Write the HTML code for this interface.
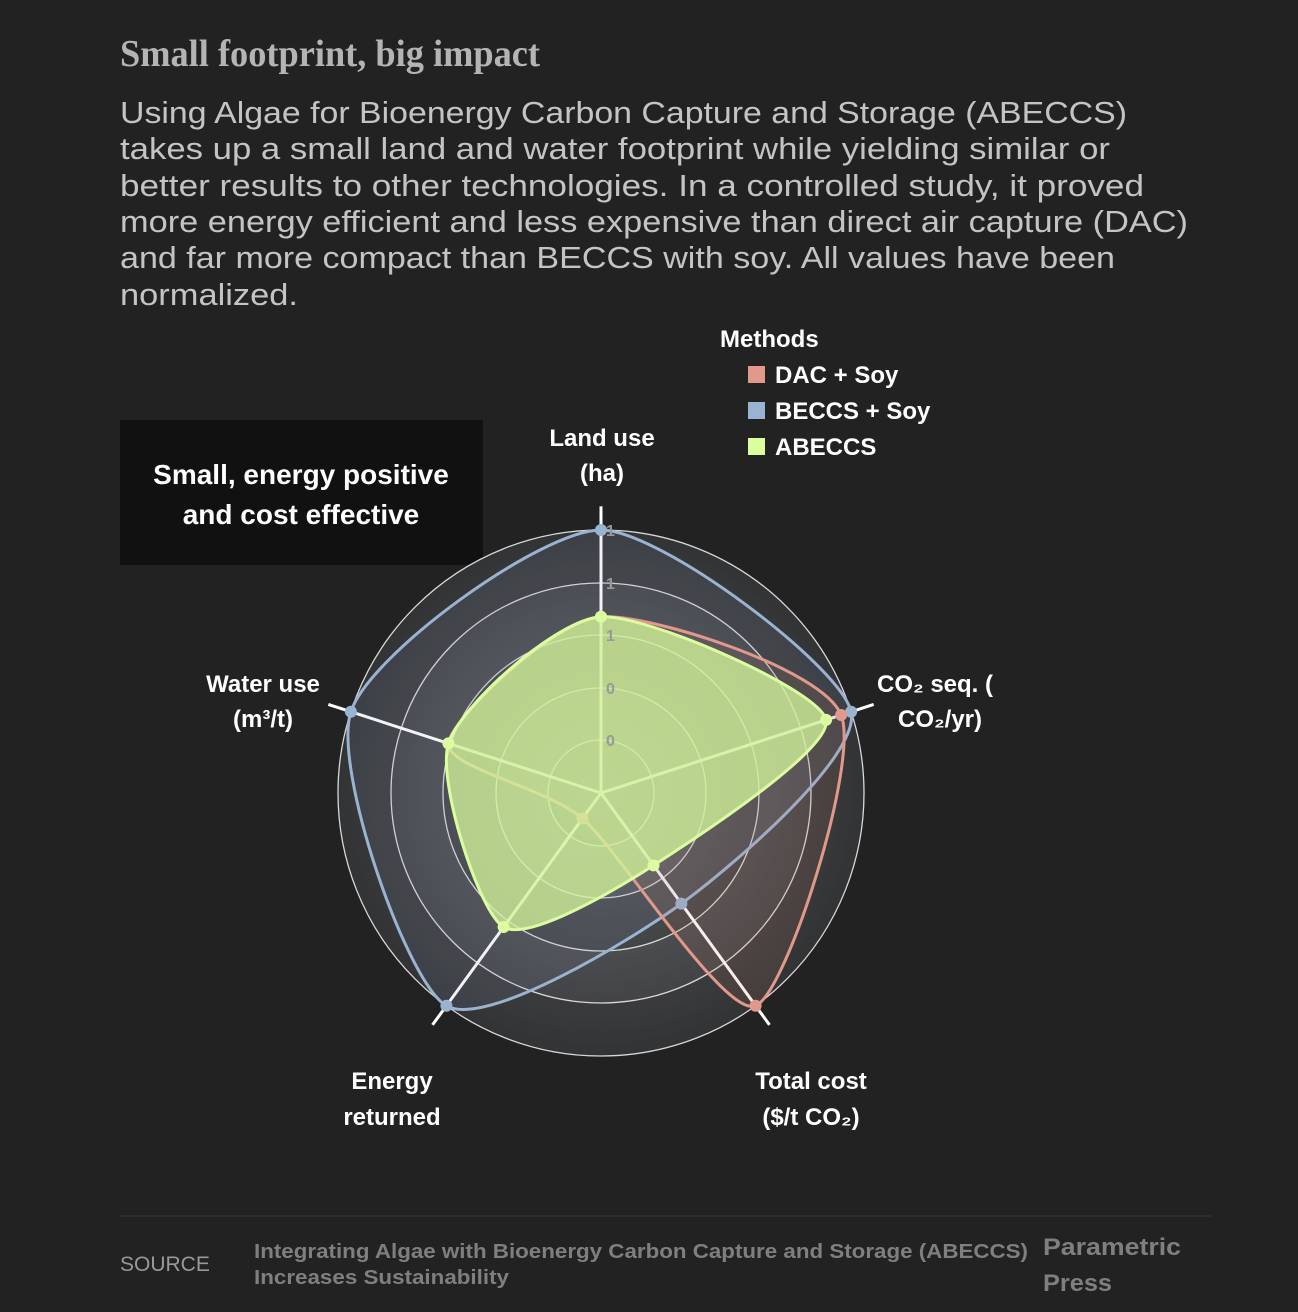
<!DOCTYPE html>
<html><head><meta charset="utf-8"><style>
html,body{margin:0;padding:0;background:#222222;}
svg{display:block}
text{font-family:"Liberation Sans",sans-serif;}
</style></head><body>
<svg id="s" width="1298" height="1312" viewBox="0 0 1298 1312" xmlns="http://www.w3.org/2000/svg">
<defs>
<radialGradient id="bg" cx="601" cy="793" r="263" gradientUnits="userSpaceOnUse">
<stop offset="0" stop-color="#64666a"/><stop offset="1" stop-color="#3a3b3d"/>
</radialGradient>
</defs>
<rect width="1298" height="1312" fill="#222222"/>
<text x="120" y="66" font-weight="bold" font-size="38" fill="#b4b4b4" textLength="420" lengthAdjust="spacingAndGlyphs" style="font-family:'Liberation Serif',serif">Small footprint, big impact</text>
<g fill="#c4c4c4" font-size="31">
<text x="120" y="123" textLength="1007" lengthAdjust="spacingAndGlyphs">Using Algae for Bioenergy Carbon Capture and Storage (ABECCS)</text>
<text x="120" y="159" textLength="990" lengthAdjust="spacingAndGlyphs">takes up a small land and water footprint while yielding similar or</text>
<text x="120" y="196" textLength="1024" lengthAdjust="spacingAndGlyphs">better results to other technologies. In a controlled study, it proved</text>
<text x="120" y="232" textLength="1068" lengthAdjust="spacingAndGlyphs">more energy efficient and less expensive than direct air capture (DAC)</text>
<text x="120" y="268" textLength="995" lengthAdjust="spacingAndGlyphs">and far more compact than BECCS with soy. All values have been</text>
<text x="120" y="305" textLength="178" lengthAdjust="spacingAndGlyphs">normalized.</text>
</g>
<text x="720" y="347" font-size="24" font-weight="bold" fill="#ffffff">Methods</text>
<rect x="748" y="366" width="17" height="17" fill="#e0998a"/>
<text x="775" y="383" font-size="24" font-weight="bold" fill="#fff">DAC + Soy</text>
<rect x="748" y="402" width="17" height="17" fill="#9ab3d0"/>
<text x="775" y="419" font-size="24" font-weight="bold" fill="#fff">BECCS + Soy</text>
<rect x="748" y="438" width="17" height="17" fill="#dcfca0"/>
<text x="775" y="455" font-size="24" font-weight="bold" fill="#fff">ABECCS</text>

<rect x="120" y="420" width="363" height="145" fill="#111111"/>
<text x="301" y="484" font-size="28" font-weight="bold" fill="#fff" text-anchor="middle">Small, energy positive</text>
<text x="301" y="524" font-size="28" font-weight="bold" fill="#fff" text-anchor="middle">and cost effective</text>

<circle cx="601" cy="793" r="263" fill="url(#bg)"/>
<circle cx="601" cy="793" r="263" fill="#000" opacity="0.12"/>
<circle cx="601" cy="793" r="210" fill="url(#bg)"/>
<circle cx="601" cy="793" r="158" fill="#000" opacity="0.10"/>
<circle cx="601" cy="793" r="105" fill="url(#bg)"/>
<circle cx="601" cy="793" r="53" fill="#000" opacity="0.08"/>
<g fill="none" stroke="#d8d8d8" stroke-width="1.3">
<circle cx="601" cy="793" r="263"/><circle cx="601" cy="793" r="210"/><circle cx="601" cy="793" r="158"/><circle cx="601" cy="793" r="105"/><circle cx="601" cy="793" r="53"/>
</g>
<g id="axes" stroke="#ffffff" stroke-width="3"></g>
<g id="series"></g>
<g fill="#999" font-size="16" font-weight="bold">
<text x="606" y="536">1</text><text x="606" y="589">1</text><text x="606" y="641">1</text><text x="606" y="694">0</text><text x="606" y="746">0</text>
</g>
<g font-size="24" font-weight="bold" fill="#fff" text-anchor="middle">
<text x="602" y="446">Land use</text><text x="602" y="481">(ha)</text>
<text x="935" y="692">CO₂ seq. (</text><text x="940" y="727">CO₂/yr)</text>
<text x="263" y="692">Water use</text><text x="263" y="727">(m³/t)</text>
<text x="392" y="1089">Energy</text><text x="392" y="1125">returned</text>
<text x="811" y="1089">Total cost</text><text x="811" y="1125">($/t CO₂)</text>
</g>
<line x1="120" y1="1216" x2="1212" y2="1216" stroke="#2f2f2f" stroke-width="1.5"/>
<text x="120" y="1271" font-size="21" fill="#999">SOURCE</text>
<g font-size="20" font-weight="bold" fill="#7f7f7f">
<text x="254" y="1258" textLength="774" lengthAdjust="spacingAndGlyphs">Integrating Algae with Bioenergy Carbon Capture and Storage (ABECCS)</text>
<text x="254" y="1284" textLength="255" lengthAdjust="spacingAndGlyphs">Increases Sustainability</text>
</g>
<g font-size="24" font-weight="bold" fill="#7f7f7f">
<text x="1043" y="1255" textLength="138" lengthAdjust="spacingAndGlyphs">Parametric</text>
<text x="1043" y="1291" textLength="69" lengthAdjust="spacingAndGlyphs">Press</text>
</g>
</svg>
<script>
(function(){
var cx=601,cy=793,R=263,NS="http://www.w3.org/2000/svg";
var ang=[];for(var i=0;i<5;i++){ang.push(-Math.PI/2+i*2*Math.PI/5);}
function pt(i,v){return [cx+R*v*Math.cos(ang[i]),cy+R*v*Math.sin(ang[i])];}
var ax=document.getElementById('axes');
for(var i=0;i<5;i++){var p=pt(i,1.09);var l=document.createElementNS(NS,'line');
l.setAttribute('x1',cx);l.setAttribute('y1',cy);l.setAttribute('x2',p[0]);l.setAttribute('y2',p[1]);ax.appendChild(l);}
var data=[
 {v:[1,1,0.52,1,1],s:"#9ab3d0",f:"rgba(140,160,190,0.12)"},
 {v:[0.67,0.96,1,0.12,0.61],s:"#e0998a",f:"rgba(200,130,110,0.13)"},
 {v:[0.67,0.9,0.34,0.63,0.61],s:"#dcfca0",f:"rgba(210,245,155,0.78)"}
];
var g=document.getElementById('series');
data.forEach(function(d){
 var P=d.v.map(function(v,i){return pt(i,v);});
 var n=P.length,t=0.12,s="M"+P[0][0]+","+P[0][1];
 for(var i=0;i<n;i++){
  var p0=P[(i-1+n)%n],p1=P[i],p2=P[(i+1)%n],p3=P[(i+2)%n];
  var c1=[p1[0]+(p2[0]-p0[0])*t,p1[1]+(p2[1]-p0[1])*t];
  var c2=[p2[0]-(p3[0]-p1[0])*t,p2[1]-(p3[1]-p1[1])*t];
  s+=" C"+c1[0]+","+c1[1]+" "+c2[0]+","+c2[1]+" "+p2[0]+","+p2[1];
 }
 var path=document.createElementNS(NS,'path');path.setAttribute('d',s+"Z");
 path.setAttribute('fill',d.f);path.setAttribute('stroke',d.s);path.setAttribute('stroke-width','3');g.appendChild(path);
 P.forEach(function(p){var c=document.createElementNS(NS,'circle');c.setAttribute('cx',p[0]);c.setAttribute('cy',p[1]);c.setAttribute('r','6');c.setAttribute('fill',d.s);g.appendChild(c);});
});
})();
</script>
</body></html>
